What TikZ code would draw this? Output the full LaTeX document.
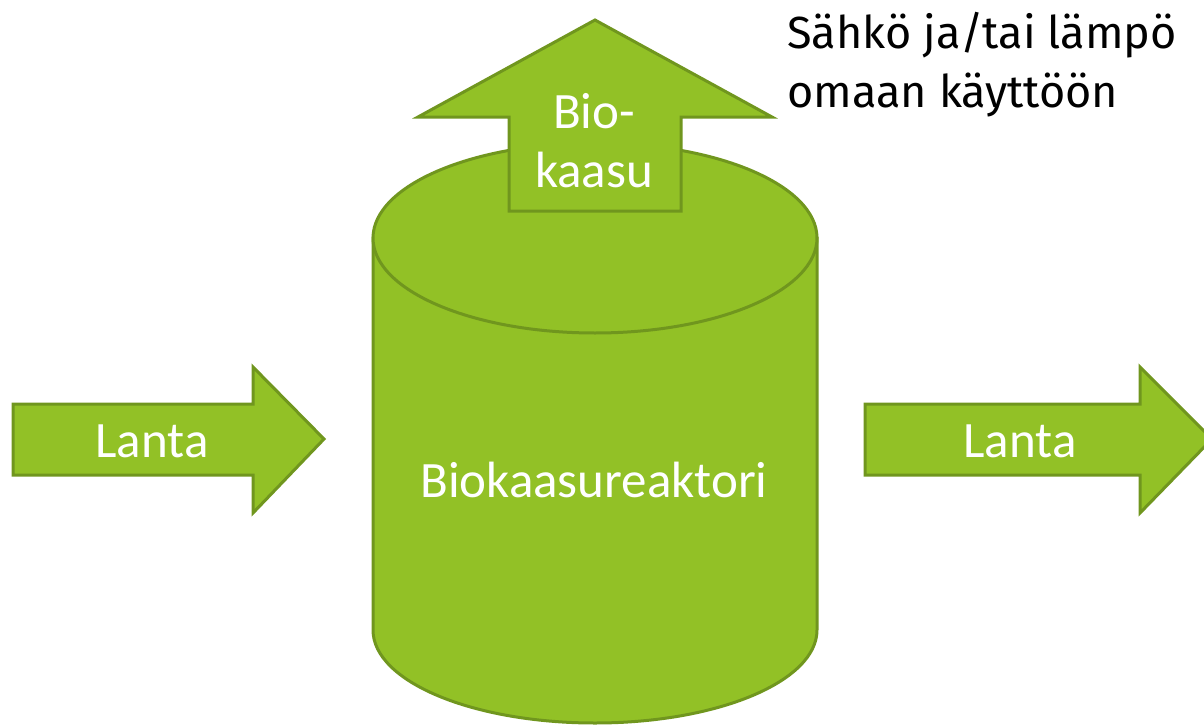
\documentclass[tikz,border=0pt]{standalone}
\usepackage{fontspec}
\newfontfamily\whitefont{Carlito}
\newfontfamily\blackfont{Fira Sans}
\definecolor{gfill}{RGB}{146,193,38}
\definecolor{gline}{RGB}{112,150,30}
\begin{document}
\begin{tikzpicture}[x=1pt,y=-1pt,
  shapestyle/.style={fill=gfill,draw=gline,line width=3pt,line join=miter},
  wlabel/.style={text=white,font=\whitefont\fontsize{51}{59}\selectfont,inner sep=0pt,anchor=base},
  blabel/.style={text=black,font=\blackfont\fontsize{45}{59}\selectfont,inner sep=0pt,anchor=base west,align=left}]
\useasboundingbox (0,0) rectangle (1204,725);
\clip (0,0) rectangle (1204,725);
% cylinder body
\path[shapestyle] (373,238) -- (373,630) arc[start angle=180,end angle=360,x radius=222,y radius=-93] -- (817,238) -- cycle;
% top ellipse
\path[shapestyle] (595,238) ellipse[x radius=222,y radius=95];
% up arrow
\path[shapestyle] (509,211) -- (509,117) -- (418,117) -- (595,20) -- (772,117) -- (681,117) -- (681,211) -- cycle;
% left arrow
\path[shapestyle] (13,404) -- (253,404) -- (253,367) -- (324,439) -- (253,513) -- (253,475) -- (13,475) -- cycle;
% right arrow
\path[shapestyle] (865,404) -- (1140,404) -- (1140,367) -- (1212,439) -- (1140,513) -- (1140,475) -- (865,475) -- cycle;
% labels
\node[wlabel] (reactor) at (594,497) {Biokaasureaktori};
\node[wlabel] (bio) at (594,128) {Bio-};
\node[wlabel] (kaasu) at (594,187) {kaasu};
\node[wlabel] (lantaL) at (152,457) {Lanta};
\node[wlabel] (lantaR) at (1020,457) {Lanta};
\node[blabel] (energy) at (787,107) {Sähkö ja/tai lämpö\\omaan käyttöön};
\end{tikzpicture}
\end{document}
